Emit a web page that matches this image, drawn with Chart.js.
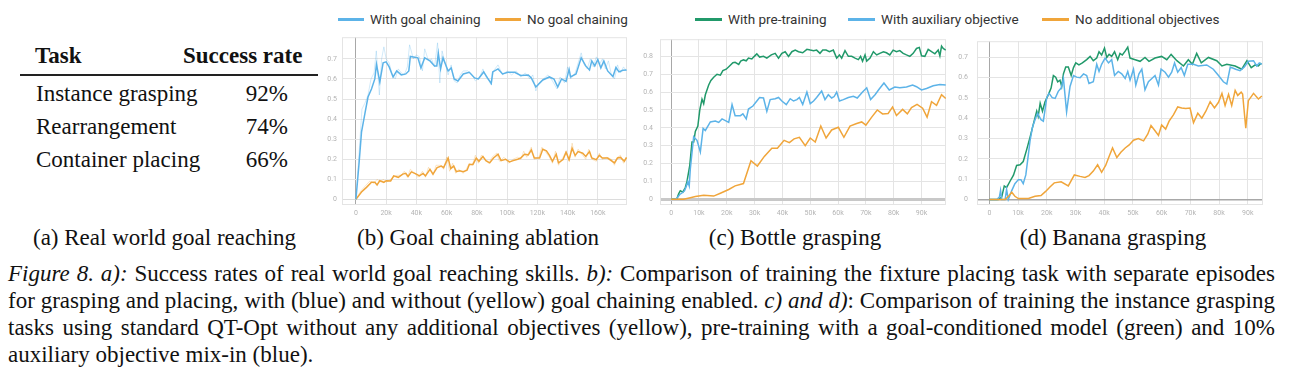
<!DOCTYPE html>
<html><head><meta charset="utf-8">
<script src="https://cdn.jsdelivr.net/npm/chart.js@4.4.1/dist/chart.umd.min.js"></script>
<style>
html,body{margin:0;padding:0;background:#fff;}
body{width:1310px;height:383px;overflow:hidden;position:relative;}
.abs{position:absolute;white-space:nowrap;line-height:1;}
.serif{font-family:"Liberation Serif","Times New Roman",serif;color:#111;}
.leg{position:absolute;display:flex;align-items:center;height:16px;font-family:Roboto,sans-serif;font-size:13.5px;color:#333;white-space:nowrap;}
.leg .l{display:inline-block;height:3px;margin-right:6px;}
canvas{position:absolute;}
.cap{position:absolute;left:8px;width:1267px;font-size:23px;line-height:1;white-space:nowrap;text-align:justify;text-align-last:justify;}
.cap.last{text-align-last:left;}
</style></head><body>

<!-- (a) table -->
<div class="abs serif" style="left:35px;top:44px;font-size:23px;font-weight:bold;">Task</div>
<div class="abs serif" style="left:183px;top:44px;font-size:23px;font-weight:bold;">Success rate</div>
<div style="position:absolute;left:20px;top:74px;width:298px;height:1.5px;background:#222;"></div>
<div id="tbl"></div>
<div class="abs serif" style="left:33px;top:226px;font-size:23px;">(a) Real world goal reaching</div>

<!-- legends -->
<div id="legB"></div>
<div id="legCD"></div>

<canvas id="chB" width="309" height="197" style="left:322px;top:28px;"></canvas>
<canvas id="chC" width="310" height="197" style="left:640px;top:28px;"></canvas>
<canvas id="chD" width="312" height="197" style="left:955px;top:28px;"></canvas>

<div id="subcaps"></div>

<div class="cap serif" style="top:262px;"><i>Figure 8. a):</i> Success rates of real world goal reaching skills. <i>b):</i> Comparison of training the fixture placing task with separate episodes</div>
<div class="cap serif" style="top:289px;">for grasping and placing, with (blue) and without (yellow) goal chaining enabled. <i>c) and d)</i>: Comparison of training the instance grasping</div>
<div class="cap serif" style="top:316px;">tasks using standard QT-Opt without any additional objectives (yellow), pre-training with a goal-conditioned model (green) and 10%</div>
<div class="cap serif last" style="top:343px;">auxiliary objective mix-in (blue).</div>

<script>
// ---------------- DATA ----------------
const tableTasks = ["Instance grasping", "Rearrangement", "Container placing"];
const tableRates = ["92%", "74%", "66%"];
const subCaptions = ["(b) Goal chaining ablation", "(c) Bottle grasping", "(d) Banana grasping"];

const legendB = ["With goal chaining", "No goal chaining"];
const legendCD = ["With pre-training", "With auxiliary objective", "No additional objectives"];

// x in thousands of steps, y = success rate
const xTicksB = [0,20,40,60,80,100,120,140,160];
const yTicksB = [0,0.1,0.2,0.3,0.4,0.5,0.6,0.7];
const xTicksCD = [0,10,20,30,40,50,60,70,80,90];
const yTicksC = [0,0.1,0.2,0.3,0.4,0.5,0.6,0.7,0.8];
const yTicksD = [0,0.1,0.2,0.3,0.4,0.5,0.6,0.7];

// (b) With goal chaining (smoothed)
const bGoal = [[0,0],[2.2,0.19],[3.7,0.335],[6,0.43],[8,0.51],[10.3,0.55],[12.5,0.60],[13.6,0.673],[15.8,0.585],[18,0.68],[20,0.685],[22,0.66],[24.6,0.61],[27,0.64],[30,0.62],[33,0.625],[35,0.64],[36,0.712],[41,0.705],[43,0.655],[45.5,0.705],[49,0.69],[52,0.665],[53.5,0.665],[54.5,0.728],[56,0.65],[57.6,0.705],[61,0.64],[63,0.655],[65,0.60],[67.5,0.59],[71,0.625],[75,0.633],[78.5,0.605],[81,0.60],[84.5,0.635],[87,0.605],[89.5,0.578],[90.5,0.635],[94,0.65],[97,0.625],[100.5,0.633],[105,0.633],[109,0.617],[114,0.62],[116,0.605],[119,0.56],[123.6,0.595],[128,0.61],[131,0.60],[133.5,0.56],[136,0.60],[139,0.588],[141,0.648],[142,0.61],[145.6,0.625],[149,0.705],[152,0.665],[154.5,0.645],[156,0.69],[158,0.665],[160,0.697],[162,0.655],[164,0.69],[166.5,0.64],[170,0.612],[172,0.657],[174,0.635],[176.5,0.643],[179,0.645]];
// (b) With goal chaining (raw, faint)
const bGoalRaw = [[0,0],[2,0.22],[4,0.45],[6,0.48],[8,0.52],[10,0.6],[12,0.63],[13.5,0.74],[15.5,0.52],[17,0.70],[18.5,0.76],[20,0.70],[22,0.68],[24,0.62],[26,0.60],[28,0.65],[30,0.63],[32,0.62],[34,0.66],[35.5,0.77],[38,0.70],[40,0.72],[42,0.71],[44,0.64],[45.5,0.75],[48,0.69],[50,0.70],[52,0.66],[54,0.78],[55.5,0.58],[57,0.74],[59,0.68],[61,0.62],[63,0.67],[65,0.59],[67,0.58],[69,0.62],[71,0.64],[74,0.64],[77,0.62],[79,0.59],[82,0.61],[84,0.65],[86,0.61],[88,0.59],[89.5,0.57],[91,0.64],[94,0.67],[97,0.62],[100,0.64],[103,0.62],[106,0.64],[109,0.61],[112,0.63],[115,0.60],[117,0.62],[119,0.54],[121,0.58],[124,0.60],[127,0.62],[130,0.59],[133,0.55],[135,0.61],[138,0.58],[140,0.66],[142,0.60],[145,0.63],[147,0.68],[149,0.73],[151,0.67],[153,0.65],[155,0.70],[157,0.66],[159,0.71],[161,0.67],[163,0.70],[165,0.65],[167,0.69],[169,0.62],[171,0.60],[173,0.67],[175,0.63],[177,0.66],[179,0.64]];
// (b) No goal chaining (smoothed)
const bNone = [[0,0],[3.7,0.037],[7,0.06],[10.3,0.085],[12.5,0.085],[14,0.072],[15.8,0.093],[18.5,0.085],[20,0.093],[23,0.092],[25,0.117],[28,0.11],[31,0.126],[33,0.13],[34.5,0.114],[36.7,0.137],[40,0.126],[42,0.117],[44.4,0.129],[46,0.117],[49,0.15],[51,0.126],[53.7,0.158],[56.5,0.166],[58,0.158],[61,0.206],[62.7,0.153],[64.7,0.166],[66.4,0.138],[68.6,0.142],[71,0.138],[73.5,0.145],[75,0.174],[77.4,0.174],[79.6,0.206],[81.4,0.19],[84,0.214],[86,0.193],[88.5,0.182],[91,0.206],[94,0.225],[96,0.193],[99,0.2],[101.6,0.187],[104,0.193],[107,0.2],[109,0.206],[111.5,0.225],[114,0.222],[116,0.246],[118,0.206],[121.5,0.206],[123.6,0.25],[126,0.242],[128,0.219],[130,0.19],[132.5,0.225],[134,0.182],[137,0.198],[139,0.235],[141,0.198],[143,0.254],[145,0.219],[147,0.238],[150,0.23],[152,0.214],[154.5,0.238],[156,0.206],[159,0.198],[161,0.219],[163,0.206],[166.5,0.206],[171,0.182],[173,0.206],[175,0.209],[177.5,0.19],[179,0.209]];
// (b) No goal chaining (raw, faint)
const bNoneRaw = [[0,0],[3,0.04],[6,0.065],[9,0.09],[12,0.08],[14,0.1],[16,0.085],[18,0.1],[20,0.085],[23,0.1],[25,0.11],[27,0.12],[30,0.12],[32,0.14],[34,0.11],[36,0.15],[39,0.13],[41,0.11],[44,0.14],[46,0.11],[48,0.16],[51,0.12],[53,0.17],[56,0.17],[58,0.15],[60,0.21],[62,0.14],[64,0.18],[66,0.13],[68,0.15],[71,0.13],[73,0.15],[75,0.18],[77,0.17],[79,0.22],[81,0.18],[83,0.22],[86,0.19],[88,0.18],[90,0.21],[93,0.23],[95,0.19],[98,0.21],[101,0.18],[104,0.2],[107,0.21],[109,0.2],[111,0.24],[113,0.21],[116,0.26],[118,0.2],[121,0.21],[123,0.26],[126,0.23],[128,0.21],[130,0.18],[132,0.24],[134,0.17],[137,0.21],[139,0.24],[141,0.19],[143,0.28],[145,0.21],[147,0.25],[150,0.22],[152,0.2],[154,0.25],[156,0.2],[159,0.19],[161,0.23],[163,0.2],[166,0.21],[169,0.2],[171,0.17],[173,0.21],[175,0.22],[177,0.18],[179,0.21]];

// (c) Bottle grasping
const cPre = [[0,0],[2,0],[2.7,0.03],[3.3,0.048],[4.2,0.04],[5.1,0.066],[5.7,0.1],[6.7,0.19],[7.5,0.32],[8.1,0.32],[8.7,0.38],[9.6,0.41],[10.3,0.5],[11.1,0.56],[11.7,0.535],[12.3,0.585],[13.5,0.64],[14.3,0.665],[15.3,0.683],[16.5,0.70],[17.7,0.695],[18.6,0.72],[19.8,0.728],[21,0.746],[22.2,0.764],[23,0.767],[24.3,0.755],[25,0.773],[26,0.78],[27,0.775],[27.8,0.79],[29,0.785],[29.9,0.80],[30.8,0.814],[31.8,0.796],[33.2,0.80],[34.4,0.79],[36,0.808],[37.4,0.817],[38.6,0.79],[39.8,0.817],[41,0.826],[42.2,0.80],[43.4,0.826],[44.6,0.835],[45.8,0.826],[47.3,0.82],[48.8,0.839],[50,0.835],[51.2,0.832],[52.3,0.835],[53.5,0.817],[54.5,0.835],[55.7,0.835],[56.9,0.826],[58.3,0.835],[59.5,0.79],[60.5,0.808],[61.3,0.79],[62.5,0.832],[63.7,0.80],[64.9,0.80],[66.1,0.79],[67.3,0.782],[68.1,0.80],[68.8,0.773],[69.7,0.808],[70.3,0.773],[71.5,0.79],[72.7,0.826],[73.9,0.808],[75,0.817],[76.3,0.826],[77.4,0.82],[78.6,0.808],[79.8,0.835],[81,0.826],[82.2,0.832],[83.4,0.817],[84.6,0.808],[85.8,0.80],[87,0.817],[88.2,0.844],[89.2,0.85],[90,0.803],[91.2,0.80],[92.4,0.839],[93.6,0.826],[94.8,0.814],[96,0.835],[96.6,0.803],[97.2,0.857],[97.8,0.844],[98.7,0.835]];
const cAux = [[0,0],[1.5,0],[2.3,0.01],[3.1,0.027],[3.9,0.035],[4.8,0.048],[5.5,0.075],[6,0.1],[6.5,0.075],[6.9,0.17],[8.1,0.35],[9.3,0.33],[10.5,0.265],[11.5,0.397],[12.3,0.385],[14.1,0.433],[15.9,0.438],[17.1,0.43],[18.3,0.45],[19.5,0.44],[20.7,0.43],[21.9,0.53],[23,0.468],[24.9,0.468],[25.8,0.478],[27,0.45],[27.8,0.505],[29.4,0.522],[30.6,0.546],[31.8,0.57],[33.2,0.567],[34.4,0.492],[35.6,0.558],[37.4,0.563],[38.6,0.57],[39.8,0.55],[41.4,0.53],[42.8,0.563],[44,0.55],[45.2,0.558],[46.1,0.57],[47.3,0.53],[48.8,0.60],[50,0.535],[51.2,0.55],[52.3,0.57],[54.1,0.606],[55.3,0.558],[56.5,0.585],[57.7,0.567],[58.6,0.575],[59.5,0.60],[60.5,0.55],[61.9,0.558],[63.7,0.57],[65.5,0.576],[66.9,0.567],[68.8,0.60],[70.3,0.624],[71.7,0.558],[73.3,0.585],[74.8,0.617],[76.5,0.651],[78.4,0.612],[80.4,0.628],[82.2,0.624],[84.6,0.628],[86.8,0.639],[88.2,0.63],[90,0.612],[91.8,0.62],[94.2,0.635],[96.6,0.642],[98.7,0.639]];
const cNone = [[0,0],[4.5,0],[6.9,0.009],[8.7,0.016],[11.7,0.023],[15.3,0.018],[17.7,0.034],[20.7,0.055],[23,0.075],[26,0.088],[28.7,0.216],[31,0.186],[33.5,0.24],[36.2,0.286],[38.2,0.286],[40.6,0.33],[42.5,0.317],[44.2,0.338],[46.1,0.347],[48.2,0.30],[50,0.343],[51.8,0.32],[53.8,0.41],[55.7,0.343],[57.7,0.388],[60.1,0.403],[62.1,0.347],[64.3,0.41],[66.7,0.424],[68.5,0.433],[70,0.415],[72.1,0.46],[74.1,0.50],[76,0.478],[78,0.48],[79.6,0.517],[81,0.469],[83.2,0.503],[84.9,0.478],[86.4,0.513],[88.4,0.531],[90.4,0.51],[92,0.46],[93.6,0.546],[95.4,0.526],[97.2,0.585],[98.7,0.564]];

// (d) Banana grasping
const dPre = [[0,0],[3.1,0],[4.3,0.012],[5.2,0.067],[6,0.059],[7.2,0.09],[8.4,0.12],[9.5,0.168],[10.7,0.171],[11.8,0.187],[13,0.246],[14.2,0.308],[15.3,0.37],[16.5,0.435],[17,0.41],[17.7,0.474],[18.5,0.435],[19.4,0.482],[20.6,0.518],[21.5,0.549],[22.3,0.611],[23.1,0.603],[23.8,0.58],[24.6,0.588],[25.2,0.557],[25.8,0.619],[26.6,0.653],[27.5,0.653],[28.5,0.611],[29.3,0.65],[30.1,0.673],[31.2,0.663],[32.4,0.673],[33.9,0.689],[35.1,0.705],[36.2,0.684],[37.4,0.697],[38.2,0.728],[39.1,0.712],[40.1,0.746],[40.9,0.70],[41.7,0.715],[42.6,0.705],[43.6,0.728],[44.7,0.689],[45.5,0.72],[46.3,0.712],[47.3,0.731],[48.2,0.751],[49,0.697],[50.8,0.689],[52.5,0.681],[54.2,0.70],[55.6,0.681],[57.7,0.697],[60,0.705],[61.8,0.689],[63.3,0.715],[65.3,0.684],[67.6,0.658],[69.3,0.689],[70.7,0.666],[72.2,0.72],[73.8,0.673],[76.3,0.70],[79.2,0.684],[81,0.658],[82.7,0.666],[85.6,0.658],[87.9,0.642],[89.7,0.684],[91.2,0.65],[92.6,0.663],[93.7,0.658],[94.7,0.673]];
const dAux = [[0,0],[2.6,0],[3.5,0.012],[3.9,0.044],[4.3,0],[5.5,0],[6,0.05],[6.6,0],[7.8,0.044],[8.9,0.078],[10.1,0.098],[11,0.098],[11.8,0.078],[12.7,0.121],[13.4,0.20],[14.2,0.292],[15,0.355],[15.9,0.393],[16.8,0.425],[18,0.393],[18.8,0.386],[20,0.502],[20.8,0.523],[21.9,0.502],[22.9,0.498],[24,0.533],[25,0.549],[25.8,0.596],[26.9,0.432],[28.1,0.557],[29.3,0.611],[30.4,0.603],[31.6,0.60],[32.8,0.619],[33.9,0.611],[34.7,0.572],[36.2,0.58],[37.4,0.666],[38.2,0.631],[39.1,0.666],[40.3,0.697],[41.5,0.673],[42.6,0.689],[43.6,0.611],[44.9,0.631],[46.1,0.619],[47.3,0.596],[48.2,0.631],[49,0.588],[50.2,0.642],[51,0.564],[52.1,0.619],[53.1,0.642],[54.2,0.541],[55.4,0.58],[56.6,0.596],[57.7,0.611],[58.9,0.564],[59.8,0.642],[61.2,0.627],[62.4,0.603],[63.5,0.627],[64.5,0.673],[65.6,0.627],[66.8,0.65],[67.9,0.611],[69.1,0.666],[71.1,0.666],[72.8,0.658],[75.7,0.663],[78,0.642],[79.8,0.611],[81.5,0.58],[82.7,0.569],[83.9,0.653],[85.8,0.642],[87.3,0.635],[88.8,0.653],[90.2,0.681],[92,0.684],[93.1,0.658],[94,0.673],[94.9,0.666]];
const dNone = [[0,0],[5.5,0],[6.9,0.02],[7.8,0.036],[8.9,0.016],[10.1,0.005],[11.8,0.005],[13.6,0.005],[15.9,0.016],[18,0.02],[19.6,0.04],[21.1,0.062],[22.6,0.082],[25,0.087],[27.5,0.067],[29.6,0.121],[31.6,0.114],[33.3,0.109],[34.7,0.118],[36.2,0.14],[37.7,0.171],[39.1,0.134],[40.5,0.168],[41.7,0.212],[42.9,0.254],[44.4,0.207],[45.8,0.233],[47.3,0.254],[48.7,0.269],[50.2,0.292],[51.9,0.30],[53.7,0.289],[55.2,0.323],[56.3,0.365],[57.7,0.339],[58.9,0.316],[60,0.367],[61.4,0.347],[62.6,0.386],[64.1,0.417],[65.6,0.456],[67,0.451],[68.4,0.448],[69.9,0.451],[71.1,0.378],[72.6,0.425],[74,0.401],[75.4,0.435],[76.9,0.482],[78.4,0.451],[79.8,0.479],[81,0.523],[82.1,0.463],[83.3,0.518],[84.4,0.463],[85.6,0.538],[86.5,0.513],[87.7,0.529],[88.2,0.52],[89.3,0.351],[90.2,0.487],[92,0.523],[93.7,0.495],[94.9,0.51]];

// ---------------- COLORS ----------------
const BLUE = '#5cb3e8', ORANGE = '#f0a53a', GREEN = '#21996a';
const BLUE_F = 'rgba(92,179,232,0.28)', ORANGE_F = 'rgba(240,165,58,0.28)';

// ---------------- HTML TEXT ----------------
(function(){
  const tbl = document.getElementById('tbl');
  const rowTops = [82, 115, 148];
  tableTasks.forEach((t,i)=>{
    const a = document.createElement('div');
    a.className='abs serif'; a.style.cssText=`left:36px;top:${rowTops[i]}px;font-size:23px;`;
    a.textContent=t; tbl.appendChild(a);
    const b = document.createElement('div');
    b.className='abs serif'; b.style.cssText=`right:${1310-288}px;top:${rowTops[i]}px;font-size:23px;`;
    b.textContent=tableRates[i]; tbl.appendChild(b);
  });
  const sc = document.getElementById('subcaps');
  const centers = [478, 795, 1113];
  subCaptions.forEach((t,i)=>{
    const d = document.createElement('div');
    d.className='abs serif'; d.style.cssText=`left:${centers[i]-200}px;width:400px;text-align:center;top:226px;font-size:23px;`;
    d.textContent=t; sc.appendChild(d);
  });
  function leg(parent, x, color, text, w){
    const d = document.createElement('div');
    d.className='leg'; d.style.left=x+'px'; d.style.top='11px';
    d.innerHTML=`<span class="l" style="width:${w}px;background:${color}"></span>`;
    const s=document.createElement('span'); s.textContent=text; d.appendChild(s);
    parent.appendChild(d);
  }
  const lb=document.getElementById('legB');
  leg(lb, 338, BLUE, legendB[0], 26);
  leg(lb, 495, ORANGE, legendB[1], 26);
  const lcd=document.getElementById('legCD');
  leg(lcd, 695, GREEN, legendCD[0], 27);
  leg(lcd, 848, BLUE, legendCD[1], 27);
  leg(lcd, 1042, ORANGE, legendCD[2], 27);
})();

// ---------------- CHARTS ----------------
const pts = arr => arr.map(p => ({x:p[0], y:p[1]}));
const ds = (arr, color, w) => ({data: pts(arr), borderColor: color, borderWidth: w, pointRadius: 0, tension: 0, fill: false});

const framePlugin = {
  id: 'frame',
  beforeDatasetsDraw(chart){
    const {ctx, chartArea:a} = chart;
    ctx.save(); ctx.strokeStyle='#e4e4e4'; ctx.lineWidth=1;
    ctx.strokeRect(a.left+0.5, a.top+0.5, a.right-a.left-1, a.bottom-a.top-1);
    ctx.restore();
  }
};

function makeChart(id, o){
  const tickFont = {family:'Roboto', size:7};
  new Chart(document.getElementById(id), {
    type: 'line',
    data: {datasets: o.datasets},
    plugins: [framePlugin],
    options: {
      responsive: false, animation: false, devicePixelRatio: 1,
      layout: {padding: {top: 4, right: 4, left: 0, bottom: 0}},
      plugins: {legend: {display: false}, tooltip: {enabled: false}},
      scales: {
        x: {
          type: 'linear', min: o.xMin, max: o.xMax,
          afterBuildTicks: s => { s.ticks = o.xTicks.map(v => ({value: v})); },
          afterFit: s => { s.height = 20; },
          ticks: {font: tickFont, color: '#b4b4b4', padding: 4, maxRotation: 0, autoSkip: false,
                  callback: v => v === 0 ? '0' : v + 'k'},
          grid: {drawTicks: false, color: c => (c.tick && c.tick.value === 0) ? '#a8a8a8' : '#e4e4e4', lineWidth: 1},
          border: {display: false}
        },
        y: {
          min: o.yMin, max: o.yMax,
          afterBuildTicks: s => { s.ticks = o.yTicks.map(v => ({value: v})); },
          afterFit: s => { s.width = o.yw; },
          ticks: {font: tickFont, color: '#b4b4b4', padding: o.yPad,
                  callback: v => v === 0 ? '0' : v.toFixed(1)},
          grid: {drawTicks: false, color: c => (c.tick && c.tick.value === 0) ? o.zeroColor : '#e4e4e4',
                 lineWidth: c => (c.tick && c.tick.value === 0) ? o.zeroWidth : 1},
          border: {display: false}
        }
      }
    }
  });
}

makeChart('chB', {
  datasets: [ds(bGoalRaw, BLUE_F, 1), ds(bNoneRaw, ORANGE_F, 1), ds(bGoal, BLUE, 1.5), ds(bNone, ORANGE, 1.5)],
  xMin: -9.2, xMax: 179.3, yMin: -0.028, yMax: 0.808,
  xTicks: xTicksB, yTicks: yTicksB, yw: 20, yPad: 5, zeroColor: '#dcdcdc', zeroWidth: 1
});
makeChart('chC', {
  datasets: [ds(cNone, ORANGE, 1.5), ds(cAux, BLUE, 1.5), ds(cPre, GREEN, 1.5)],
  xMin: -4, xMax: 98.8, yMin: -0.032, yMax: 0.896,
  xTicks: xTicksCD, yTicks: yTicksC, yw: 20, yPad: 7, zeroColor: '#c8c8c8', zeroWidth: 3
});
makeChart('chD', {
  datasets: [ds(dNone, ORANGE, 1.5), ds(dAux, BLUE, 1.5), ds(dPre, GREEN, 1.5)],
  xMin: -4.3, xMax: 95.3, yMin: -0.027, yMax: 0.78,
  xTicks: xTicksCD, yTicks: yTicksD, yw: 22, yPad: 9, zeroColor: '#a8a8a8', zeroWidth: 1.5
});
</script>
</body></html>
